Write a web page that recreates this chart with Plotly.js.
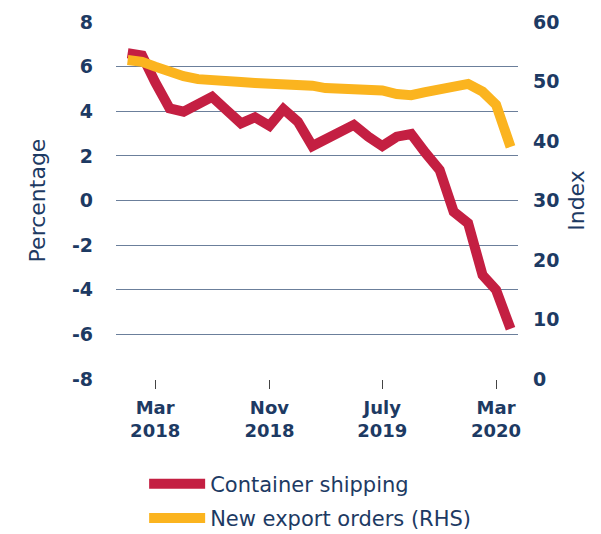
<!DOCTYPE html>
<html><head><meta charset="utf-8">
<script src="https://cdn.plot.ly/plotly-3.0.1.min.js"></script>
<style>body{margin:0;background:#fff}#chart{width:601px;height:534px}</style>
</head><body><div id="chart"></div>
<script>
const months = ['2018-01-01','2018-02-01','2018-03-01','2018-04-01','2018-05-01','2018-06-01','2018-07-01','2018-08-01','2018-09-01','2018-10-01','2018-11-01','2018-12-01',
'2019-01-01','2019-02-01','2019-03-01','2019-04-01','2019-05-01','2019-06-01','2019-07-01','2019-08-01','2019-09-01','2019-10-01','2019-11-01','2019-12-01',
'2020-01-01','2020-02-01','2020-03-01','2020-04-01'];
const containerShipping = [6.6,6.5,5.3,4.13,3.98,4.3,4.65,4.05,3.46,3.73,3.35,4.1,3.53,2.44,2.71,3.05,3.39,2.86,2.44,2.86,2.98,2.15,1.37,-0.5,-1.02,-3.34,-4.01,-5.75];
const newExportOrders = [53.6,53.3,52.5,51.6,50.9,50.4,50.1,50.0,49.9,49.75,49.7,49.7,49.7,49.3,48.9,48.9,48.9,48.9,48.5,47.9,47.7,48.2,48.7,49.2,49.6,48.3,46.1,39.0];
const tickDates = ['2018-03-01','2018-11-01','2019-07-01','2020-03-01'];
const tickLabels = ['Mar<br>2018','Nov<br>2018','July<br>2019','Mar<br>2020'];
const leftTicks = [-8,-6,-4,-2,0,2,4,6,8];
const leftTickLabels = ['-8','-6','-4','-2','0','2','4','6','8'];

const navy = '#1d3a63';
const fam = 'DejaVu Sans, sans-serif';
const traces = [
  {x: months, y: containerShipping, name: 'Container shipping', type: 'scatter', mode: 'lines', legendgroup: 'a',
   line: {color: '#c41f42', width: 10}, yaxis: 'y'},
  {x: months, y: newExportOrders, name: 'New export orders (RHS)', type: 'scatter', mode: 'lines', legendgroup: 'b',
   line: {color: '#fbb41f', width: 10}, yaxis: 'y2'}
];
const layout = {
  width: 601, height: 534,
  margin: {l: 116, r: 83, t: 22, b: 155},
  paper_bgcolor: '#fff', plot_bgcolor: '#fff',
  showlegend: true,
  legend: {orientation: 'v', xref: 'paper', yref: 'container', x: 0.07, xanchor: 'left', y: 0.132, yanchor: 'top',
    font: {family: fam, size: 21, color: navy}, itemwidth: 56, tracegroupgap: 4},
  xaxis: {type: 'date', range: ['2017-12-07','2020-04-17'], tickvals: tickDates, ticktext: tickLabels,
    ticks: 'outside', ticklen: 9, tickcolor: '#444', tickwidth: 1, showgrid: false, zeroline: false, showline: false,
    ticklabelstandoff: 3,
    tickfont: {family: fam, size: 18, color: navy, weight: 'bold'}},
  yaxis: {range: [-8, 8], tickmode: 'array', tickvals: leftTicks, ticktext: leftTickLabels,
    showgrid: true, gridcolor: '#6b7f9b', gridwidth: 1, zeroline: false,
    ticks: '', ticklabelstandoff: 22,
    tickfont: {family: fam, size: 19, color: navy, weight: 'bold'},
    title: {text: 'Percentage', font: {family: fam, size: 22, color: navy}, standoff: 20}},
  yaxis2: {range: [0, 60], dtick: 10, overlaying: 'y', side: 'right', showgrid: false, zeroline: false,
    ticks: '', ticklabelstandoff: 14,
    tickfont: {family: fam, size: 19, color: navy, weight: 'bold'},
    title: {text: 'Index', font: {family: fam, size: 22, color: navy}, standoff: 10}}
};
Plotly.newPlot('chart', traces, layout, {displayModeBar: false, staticPlot: true});
</script></body></html>
